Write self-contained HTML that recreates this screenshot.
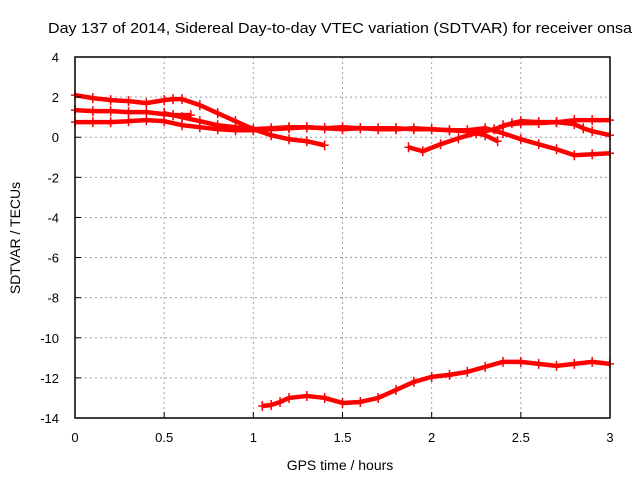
<!DOCTYPE html>
<html><head><meta charset="utf-8"><style>
body{margin:0;background:#fff;}
svg{display:block;font-family:"Liberation Sans",sans-serif;}
</style></head><body>
<svg id="chart" width="640" height="480">
<text x="340" y="33" text-anchor="middle" font-size="15" textLength="584" lengthAdjust="spacingAndGlyphs">Day 137 of 2014, Sidereal Day-to-day VTEC variation (SDTVAR) for receiver onsa</text>
<text x="340" y="470" text-anchor="middle" font-size="14">GPS time / hours</text>
<text transform="translate(20,238) rotate(-90)" text-anchor="middle" font-size="14">SDTVAR / TECUs</text>
<g id="grid"></g><g id="series"></g><g id="axes"></g>
</svg>
<script>
const xTicks=[0,0.5,1,1.5,2,2.5,3];
const xTickLabels=["0","0.5","1","1.5","2","2.5","3"];
const yTicks=[4,2,0,-2,-4,-6,-8,-10,-12,-14];
const yTickLabels=["4","2","0","-2","-4","-6","-8","-10","-12","-14"];
const track1X=[0,0.1,0.2,0.3,0.4,0.5,0.55,0.6,0.7,0.8,0.9,1.0,1.1,1.2,1.3,1.4];
const track1Y=[2.1,1.95,1.85,1.8,1.7,1.85,1.9,1.9,1.6,1.2,0.8,0.4,0.1,-0.1,-0.2,-0.4];
const track2X=[0,0.1,0.2,0.3,0.4,0.5,0.55,0.65];
const track2Y=[1.35,1.3,1.3,1.25,1.25,1.15,1.1,1.1];
const track3X=[0,0.1,0.2,0.3,0.4,0.5,0.6,0.7,0.8,0.9,1.0,1.1,1.2,1.3,1.4,1.5,1.6,1.7,1.8,1.9,2.0,2.1,2.2,2.3,2.4,2.5,2.6,2.7,2.8,2.9,3.0];
const track3Y=[0.75,0.75,0.75,0.8,0.85,0.8,0.6,0.5,0.4,0.35,0.35,0.4,0.45,0.5,0.45,0.5,0.45,0.4,0.4,0.45,0.4,0.35,0.35,0.45,0.2,-0.1,-0.35,-0.6,-0.9,-0.85,-0.8];
const track4X=[0.5,0.6,0.7,0.8,0.9,1.0,1.1,1.2,1.3,1.4,1.5,1.6,1.7,1.8,1.9,2.0,2.1,2.2,2.3,2.37];
const track4Y=[1.2,1.0,0.8,0.6,0.5,0.4,0.45,0.5,0.5,0.45,0.4,0.45,0.45,0.45,0.4,0.4,0.35,0.3,0.1,-0.2];
const track5X=[1.87,1.95,2.05,2.15,2.25,2.35,2.45,2.5,2.6,2.7,2.8,2.9,3.0];
const track5Y=[-0.5,-0.7,-0.35,-0.05,0.2,0.4,0.7,0.8,0.75,0.75,0.85,0.85,0.85];
const track6X=[2.4,2.5,2.6,2.7,2.8,2.85,2.9,3.0];
const track6Y=[0.6,0.7,0.7,0.75,0.65,0.45,0.3,0.1];
const track7X=[1.05,1.1,1.15,1.2,1.3,1.4,1.5,1.6,1.7,1.8,1.9,2.0,2.1,2.2,2.3,2.4,2.5,2.6,2.7,2.8,2.9,3.0];
const track7Y=[-13.4,-13.35,-13.2,-13.0,-12.9,-13.0,-13.25,-13.2,-13.0,-12.6,-12.2,-11.95,-11.85,-11.7,-11.45,-11.2,-11.2,-11.3,-11.4,-11.3,-11.2,-11.3];
const tracksX=[track1X,track2X,track3X,track4X,track5X,track6X,track7X];
const tracksY=[track1Y,track2Y,track3Y,track4Y,track5Y,track6Y,track7Y];

const L=75,R=610,T=57,B=418;
const sx=v=>L+(v-0)/3*(R-L);
const sy=v=>T+(4-v)/18*(B-T);
const NS="http://www.w3.org/2000/svg";
function mk(tag,attrs,parent){const e=document.createElementNS(NS,tag);for(const k in attrs)e.setAttribute(k,attrs[k]);parent.appendChild(e);return e;}
const grid=document.getElementById('grid'),axes=document.getElementById('axes'),series=document.getElementById('series');
xTicks.forEach((t,i)=>{
  const g=mk('line',{x1:sx(t),x2:sx(t),y1:T,y2:B,stroke:'#a0a0a0','stroke-dasharray':'2,3'},grid);
  
  
  const tk=mk('line',{x1:sx(t),x2:sx(t),y1:B,y2:B-6,stroke:'#000'},axes);
  
  
  const tx=mk('text',{x:sx(t),y:B+24,'text-anchor':'middle','font-size':'13'},axes);
  tx.textContent=xTickLabels[i];
  
  
});
yTicks.forEach((t,i)=>{
  const g=mk('line',{x1:L,x2:R,y1:sy(t),y2:sy(t),stroke:'#a0a0a0','stroke-dasharray':'2,3'},grid);
  
  
  const tk=mk('line',{x1:L,x2:L+6,y1:sy(t),y2:sy(t),stroke:'#000'},axes);
  
  
  const tx=mk('text',{x:L-16,y:sy(t)+5,'text-anchor':'end','font-size':'13'},axes);
  tx.textContent=yTickLabels[i];
  
  
});
const frame=mk('rect',{x:L,y:T,width:R-L,height:B-T,fill:'none',stroke:'#000','stroke-width':'1.5'},axes);


tracksX.forEach((xs,k)=>{
  const ys=tracksY[k];
  const pts=xs.map((x,i)=>sx(x)+','+sy(ys[i])).join(' ');
  const pl=mk('polyline',{points:pts,fill:'none',stroke:'#ff0000','stroke-width':'4.5','stroke-linejoin':'round'},series);
  
  
  xs.forEach((x,i)=>{
    const m=mk('path',{d:`M${sx(x)-4},${sy(ys[i])}h8M${sx(x)},${sy(ys[i])-5}v10`,stroke:'#ff0000','stroke-width':'1.5'},series);
    
    
  });
});
</script>
</body></html>
